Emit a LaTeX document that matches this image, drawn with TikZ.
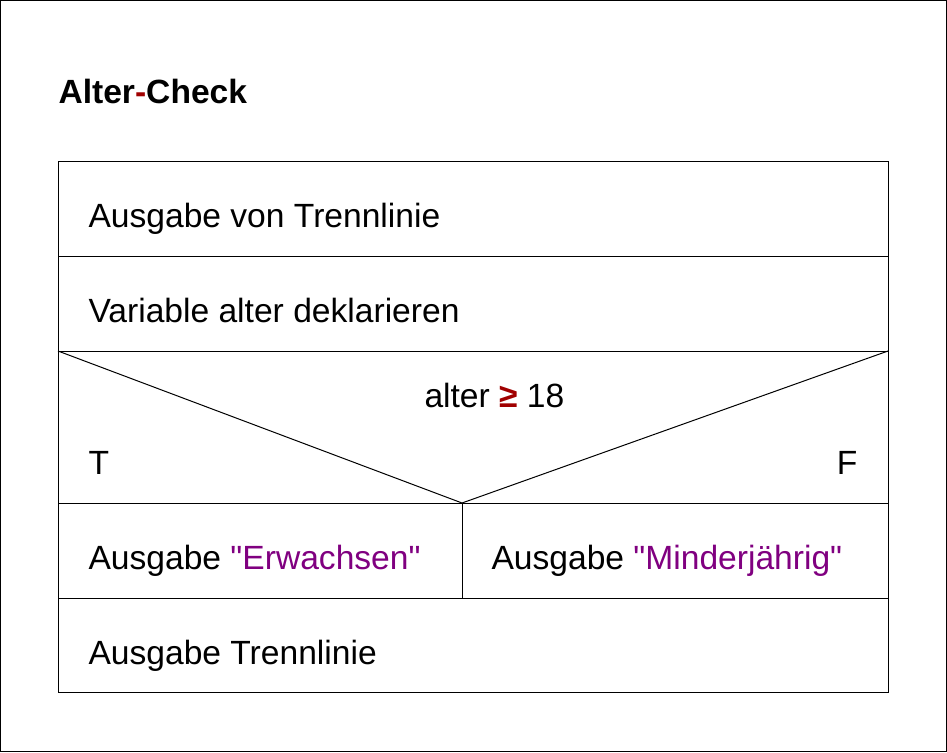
\documentclass[tikz,border=0pt]{standalone}
\usepackage{fontspec}
\setmainfont{Liberation Sans}
\definecolor{oprot}{RGB}{160,0,0}
\definecolor{strlila}{RGB}{128,0,128}
\tikzset{
    txt/.style={inner sep=0pt, anchor=base west, font=\fontsize{33.6}{40}\selectfont},
}
\begin{document}
\begin{tikzpicture}[x=1pt, y=-1pt, line width=1pt]
    \useasboundingbox (0,0) rectangle (947,752);
    \draw (0.5,0.5) rectangle (946.5,751.5);
    \node [txt, font=\fontsize{33.6}{40}\selectfont\bfseries] (titel) at (58,103) {Alter\textcolor{oprot}{-}Check};
    % Struktogramm
    \coordinate (tl) at (58,161);
    \coordinate (br) at (888,692);
    \coordinate (spitze) at (462,503);
    \draw (tl) rectangle (br);
    \draw (58,256) -- (888,256);
    \draw (58,351) -- (888,351);
    \draw (58,503) -- (888,503);
    \draw (58,598) -- (888,598);
    \draw (spitze) -- (462,598);
    \draw (58,351) -- (spitze) -- (888,351);
    \node [txt] (zeile1) at (88,227) {Ausgabe von Trennlinie};
    \node [txt] (zeile2) at (88,322) {Variable alter deklarieren};
    \node [txt] (bed) at (424,407) {alter \textcolor{oprot}{\textbf{≥}} 18};
    \node [txt] (wahr) at (88,474) {T};
    \node [txt, anchor=base east] (falsch) at (858,474) {F};
    \node [txt] (ja) at (88,569) {Ausgabe \textcolor{strlila}{\textquotedbl Erwachsen\textquotedbl}};
    \node [txt] (nein) at (491,569) {Ausgabe \textcolor{strlila}{\textquotedbl Minderjährig\textquotedbl}};
    \node [txt] (zeile5) at (88,664) {Ausgabe Trennlinie};
\end{tikzpicture}
\end{document}
